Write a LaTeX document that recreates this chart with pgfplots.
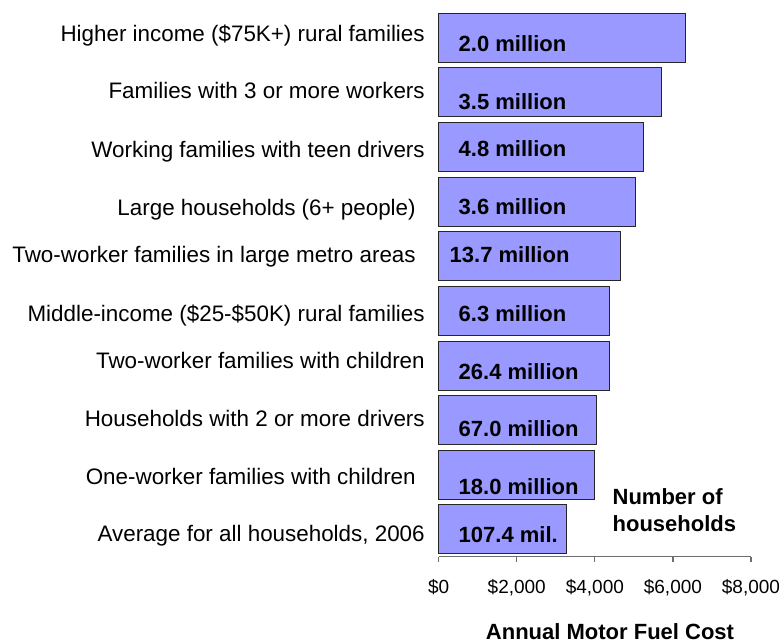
\documentclass[border=0pt]{standalone}
\usepackage{fontspec}
\setmainfont{Liberation Sans}
\usepackage{pgfplots}
\pgfplotsset{compat=1.18}
\definecolor{barfill}{RGB}{153,153,255}
\definecolor{axgray}{RGB}{110,110,110}
\begin{document}
\begin{tikzpicture}
\useasboundingbox (0,0) rectangle (391pt,321pt);
\begin{axis}[
  at={(219.35pt,42.65pt)}, anchor=south west,
  scale only axis, width=156.15pt, height=273.1pt,
  xmin=0, xmax=8000, ymin=-0.5, ymax=9.5,
  axis x line*=bottom, axis y line*=left,
  y axis line style={draw=none},
  x axis line style={-, axgray, line width=0.6pt},
  xtick={0,2000,4000,6000,8000},
  xticklabels={\$0,{\$2,000},{\$4,000},{\$6,000},{\$8,000}},
  ytick={0,...,9},
  yticklabels={
    {\raisebox{-2.15pt}{Average for all households, 2006}},
    {\raisebox{-0.85pt}{One-worker families with children}\kern4.5pt},
    {\raisebox{0.85pt}{Households with 2 or more drivers}},
    {\raisebox{2.5pt}{Two-worker families with children}},
    {\raisebox{-1.5pt}{Middle-income (\$25-\$50K) rural families}},
    {\raisebox{1pt}{Two-worker families in large metro areas}\kern4.5pt},
    {\raisebox{-3pt}{Large households (6+ people)}\kern4.5pt},
    {\raisebox{-1pt}{Working families with teen drivers}},
    {\raisebox{0.75pt}{Families with 3 or more workers}},
    {\raisebox{2.25pt}{Higher income (\$75K+) rural families}}},
  tick align=outside,
  major tick length=2.5pt,
  xtick style={axgray, line width=0.6pt},
  ytick style={draw=none},
  yticklabel style={anchor=base east, inner sep=0pt, xshift=-4.3pt, yshift=-4pt, font=\fontsize{11.2}{13}\selectfont},
  xticklabel style={inner sep=0pt, yshift=-8.5pt, font=\fontsize{9.5}{11}\selectfont},
  /pgf/number format/assume math mode=true,
  clip=false,
]
\addplot[xbar, bar width=24.5pt, fill=barfill, draw=black!85, line width=0.5pt] coordinates {
  (3270,0) (4000,1) (4040,2) (4380,3) (4380,4) (4650,5) (5030,6) (5240,7) (5700,8) (6330,9)
};
\begin{scope}[every node/.style={anchor=west, inner sep=0pt, font=\fontsize{11}{13}\selectfont\bfseries}]
\node at (axis cs:502,8.90) {2.0 million};
\node at (axis cs:502,7.835) {3.5 million};
\node at (axis cs:502,6.963) {4.8 million};
\node at (axis cs:502,5.908) {3.6 million};
\node at (axis cs:271,5.027) {13.7 million};
\node at (axis cs:502,3.954) {6.3 million};
\node at (axis cs:502,2.89) {26.4 million};
\node at (axis cs:502,1.853) {67.0 million};
\node at (axis cs:502,0.786) {18.0 million};
\node at (axis cs:502,-0.10) {107.4 mil.};
\node at (axis cs:4446,0.599) {Number of};
\node at (axis cs:4446,0.112) {households};
\end{scope}
\node[inner sep=0pt, font=\fontsize{11}{13}\selectfont\bfseries] at ([xshift=85.65pt, yshift=-37.5pt]current axis.south west) {Annual Motor Fuel Cost};
\end{axis}
\end{tikzpicture}
\end{document}
